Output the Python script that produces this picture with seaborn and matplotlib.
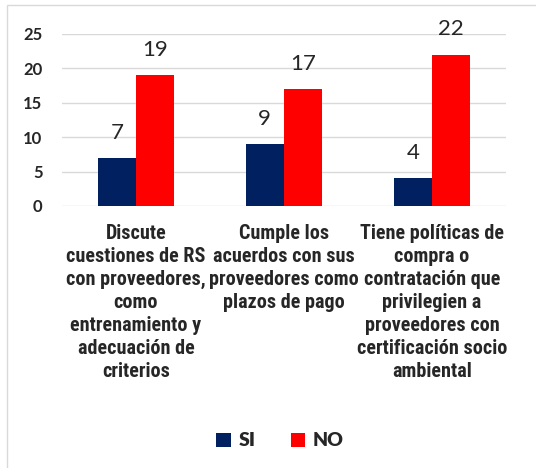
import pandas as pd
import matplotlib.pyplot as plt
import seaborn as sns
from matplotlib.patches import Rectangle

categorias = [
    'Discute\ncuestiones de RS\ncon proveedores,\ncomo\nentrenamiento y\nadecuación de\ncriterios',
    'Cumple los\nacuerdos con sus\nproveedores como\nplazos de pago',
    'Tiene políticas de\ncompra o\ncontratación que\nprivilegien a\nproveedores con\ncertificación socio\nambiental',
]
si = [7, 9, 4]
no = [19, 17, 22]

df = pd.DataFrame({
    'categoria': categorias * 2,
    'respuesta': ['SI'] * 3 + ['NO'] * 3,
    'valor': si + no,
})

sns.set_style('white')
plt.rcParams['font.family'] = ['Lato', 'DejaVu Sans']

fig = plt.figure(figsize=(5.36, 4.68), dpi=100)
ax = fig.add_axes([62/536, 1-206/468, 444/536, 172/468])

sns.barplot(data=df, x='categoria', y='valor', hue='respuesta',
            palette={'SI': '#002060', 'NO': '#FF0000'},
            width=0.52, saturation=1, linewidth=0, ax=ax, legend=True)

ax.set_ylim(0, 25)
ax.set_xlim(-0.5, 2.5)
ax.set_yticks(range(0, 26, 5))
ax.yaxis.grid(True, color='#d9d9d9', linewidth=1)
ax.set_axisbelow(True)
for s in ax.spines.values():
    s.set_visible(False)
ax.tick_params(axis='y', length=0, pad=14)
ax.tick_params(axis='x', length=0, pad=13)
ax.set_xlabel('')
ax.set_ylabel('')
for lab in ax.get_yticklabels():
    lab.set_fontsize(12)
    lab.set_fontweight('bold')
for lab in ax.get_xticklabels():
    lab.set_family(['Roboto Condensed', 'DejaVu Sans'])
    lab.set_fontsize(14.5)
    lab.set_fontweight('bold')
    lab.set_linespacing(1.27)

for cont in ax.containers:
    ax.bar_label(cont, padding=11, fontsize=16)

handles, labels = ax.get_legend_handles_labels()
ax.get_legend().remove()
fig.legend(handles, labels, loc='center', bbox_to_anchor=(280/536, 1-441/468),
           ncol=2, frameon=False, handlelength=0.75, handleheight=0.75,
           columnspacing=1.8, handletextpad=0.4,
           prop={'size': 14, 'weight': 'heavy'})

fig.patches.append(Rectangle((7/536, -0.1), 1.2, 1-5/468 + 0.1, transform=fig.transFigure,
                             fill=False, edgecolor='#d9d9d9', linewidth=1))

fig.savefig('out.png', dpi=100)
